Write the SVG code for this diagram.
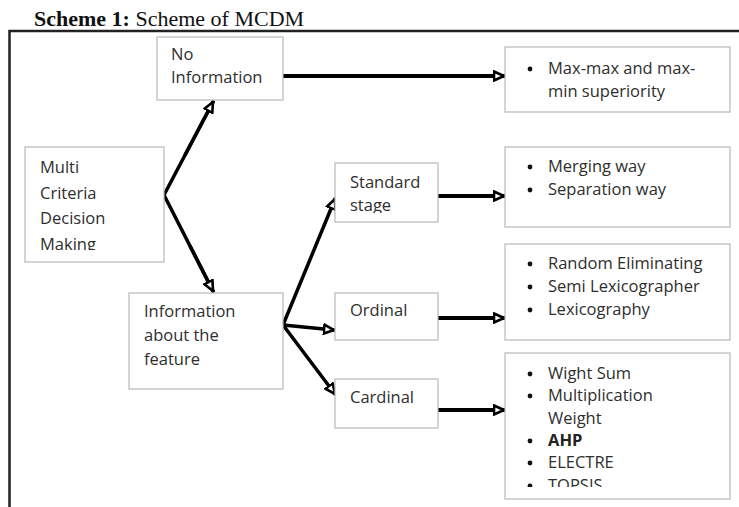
<svg xmlns="http://www.w3.org/2000/svg" width="739" height="507" viewBox="0 0 739 507">
<style>
.box{fill:#fff;stroke:#b8b8b8;stroke-width:1.2}
.t{font-family:"Open Sans","Liberation Sans",sans-serif;font-size:16.5px;fill:#2e2e2e}
.b{font-weight:bold;fill:#222}
.c{fill:none;stroke:#000;stroke-width:4;stroke-linecap:round}
.d{fill:none;stroke:#000;stroke-width:3.5;stroke-linecap:round}
.title{font-family:"Liberation Serif","Times New Roman",serif;font-size:22px;fill:#111}
</style>
<defs>
<marker id="ah" viewBox="0 0 12 12" refX="11" refY="6" markerWidth="12" markerHeight="12" markerUnits="userSpaceOnUse" orient="auto">
<path d="M1,1.5 L11,6 L1,10.5 Z" fill="#fff" stroke="#000" stroke-width="2.6" stroke-linejoin="miter"/>
</marker>
<clipPath id="cMaking"><rect x="25" y="147" width="139" height="103"/></clipPath>
<clipPath id="cStage"><rect x="335" y="163" width="103" height="50"/></clipPath>
<clipPath id="cTopsis"><rect x="505" y="353" width="225" height="134"/></clipPath>
</defs>
<text class="title" x="34" y="26"><tspan font-weight="bold">Scheme 1:</tspan> Scheme of MCDM</text>
<path d="M739,31 H9.5 V507" fill="none" stroke="#222" stroke-width="2.5"/>
<g id="connectors">
<line class="c" x1="283" y1="76" x2="504" y2="76" marker-end="url(#ah)"/>
<line class="c" x1="438" y1="196" x2="504" y2="196" marker-end="url(#ah)"/>
<line class="c" x1="438" y1="318" x2="504" y2="318" marker-end="url(#ah)"/>
<line class="c" x1="438" y1="410" x2="504" y2="410" marker-end="url(#ah)"/>
<polyline class="d" points="213,102 164,195 213,291" fill="none"/>
<line class="d" x1="185" y1="155" x2="213" y2="102" marker-end="url(#ah)"/>
<line class="d" x1="190" y1="246" x2="213" y2="291" marker-end="url(#ah)"/>
<line class="d" x1="283" y1="325" x2="335" y2="199" marker-end="url(#ah)"/>
<line class="d" x1="283" y1="325" x2="334" y2="330" marker-end="url(#ah)"/>
<line class="d" x1="283" y1="325" x2="335" y2="394" marker-end="url(#ah)"/>
</g>
<g id="no-information">
<rect class="box" x="157" y="37" width="126" height="63"/>
<text class="t" x="171" y="60">No</text>
<text class="t" x="171" y="83">Information</text>
</g>
<g id="mcdm">
<rect class="box" x="25" y="147" width="139" height="115"/>
<g clip-path="url(#cMaking)">
<text class="t" x="40" y="173">Multi</text>
<text class="t" x="40" y="199">Criteria</text>
<text class="t" x="40" y="224">Decision</text>
<text class="t" x="40" y="250">Making</text>
</g>
</g>
<g id="information-feature">
<rect class="box" x="129" y="293" width="154" height="96"/>
<text class="t" x="144" y="317">Information</text>
<text class="t" x="144" y="341">about the</text>
<text class="t" x="144" y="365">feature</text>
</g>
<g id="standard-stage">
<rect class="box" x="335" y="163" width="103" height="59"/>
<g clip-path="url(#cStage)">
<text class="t" x="350" y="188">Standard</text>
<text class="t" x="350" y="211">stage</text>
</g>
</g>
<g id="ordinal">
<rect class="box" x="335" y="293" width="103" height="47"/>
<text class="t" x="350" y="316">Ordinal</text>
</g>
<g id="cardinal">
<rect class="box" x="335" y="379" width="103" height="49"/>
<text class="t" x="350" y="403">Cardinal</text>
</g>
<g id="maxmax">
<rect class="box" x="505" y="47" width="225" height="65"/>
<circle cx="530" cy="69" r="2.4" fill="#111"/>
<text class="t" x="548" y="74">Max-max and max-</text>
<text class="t" x="548" y="97">min superiority</text>
</g>
<g id="merging">
<rect class="box" x="505" y="147" width="225" height="80"/>
<circle cx="530" cy="167" r="2.4" fill="#111"/>
<text class="t" x="548" y="172">Merging way</text>
<circle cx="530" cy="190" r="2.4" fill="#111"/>
<text class="t" x="548" y="195">Separation way</text>
</g>
<g id="random">
<rect class="box" x="505" y="244" width="225" height="96"/>
<circle cx="530" cy="264" r="2.4" fill="#111"/>
<text class="t" x="548" y="269">Random Eliminating</text>
<circle cx="530" cy="287" r="2.4" fill="#111"/>
<text class="t" x="548" y="292">Semi Lexicographer</text>
<circle cx="530" cy="310" r="2.4" fill="#111"/>
<text class="t" x="548" y="315">Lexicography</text>
</g>
<g id="wight">
<rect class="box" x="505" y="353" width="225" height="146"/>
<g clip-path="url(#cTopsis)">
<circle cx="530" cy="374" r="2.4" fill="#111"/>
<text class="t" x="548" y="379">Wight Sum</text>
<circle cx="530" cy="396" r="2.4" fill="#111"/>
<text class="t" x="548" y="401">Multiplication</text>
<text class="t" x="548" y="424">Weight</text>
<circle cx="530" cy="441" r="2.4" fill="#111"/>
<text class="t b" x="548" y="446">AHP</text>
<circle cx="530" cy="463" r="2.4" fill="#111"/>
<text class="t" x="548" y="468">ELECTRE</text>
<circle cx="530" cy="486" r="2.4" fill="#111"/>
<text class="t" x="548" y="491">TOPSIS</text>
</g>
</g>
</svg>
